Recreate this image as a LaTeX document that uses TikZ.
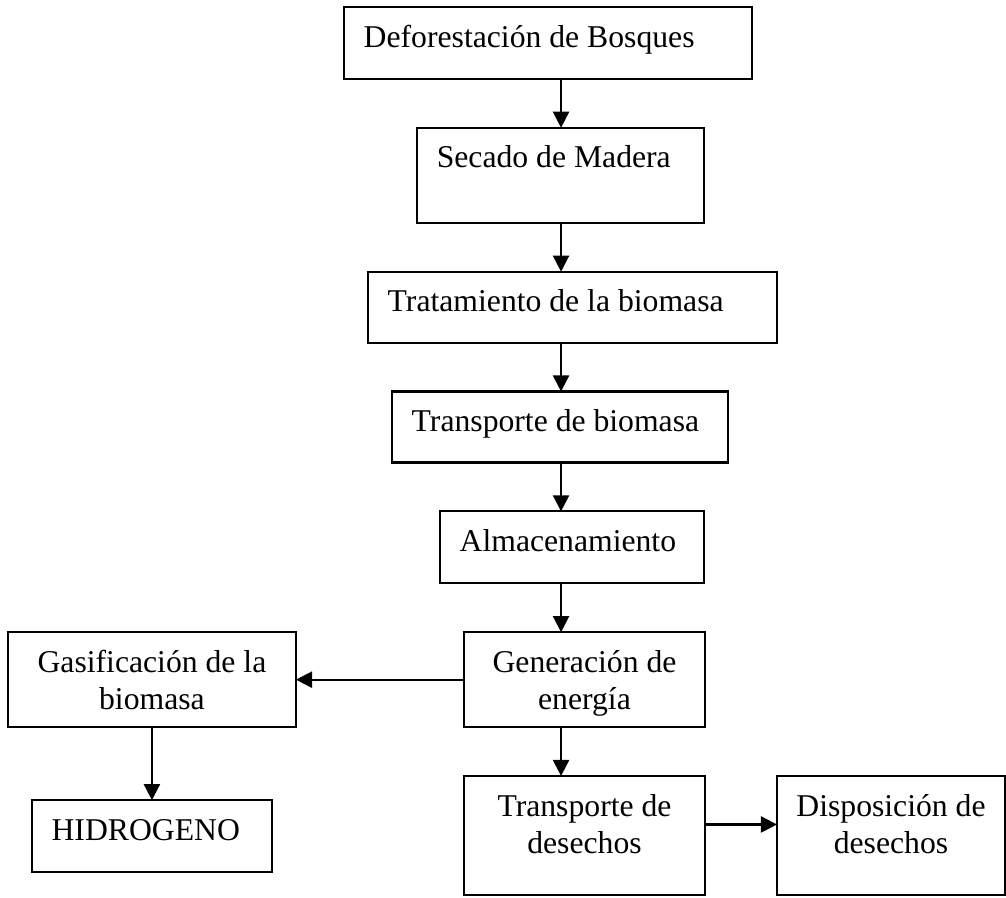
\documentclass[tikz,border=0pt]{standalone}
\usepackage{fontspec}
\setmainfont{Liberation Serif}
\usetikzlibrary{arrows.meta,positioning}

\begin{document}
\begin{tikzpicture}[
    node distance=0.62cm and 2.134cm,
    box/.style={rectangle, draw=black, line width=0.75pt, inner ysep=0pt, outer sep=0pt,
                font=\fontsize{11.45pt}{13.4pt}\selectfont},
    lbox/.style={box, inner xsep=0.25cm, align=flush left, text height=0.508cm},
    cbox/.style={box, inner xsep=0pt, align=center, text height=0.979cm},
    arrow/.style={-{Triangle[length=5.8pt,width=5.8pt]}, line width=0.75pt}
]
\useasboundingbox (0,0) rectangle (12.776,-11.392);
\coordinate (axis) at (7.125,0);
\node[lbox, anchor=north west, text width=4.682cm, text depth=0.406cm] (bosques) at (4.369,-0.089) {Deforestación de Bosques};
\node[lbox, below=of bosques, xshift=0.159cm, text width=3.145cm, text depth=0.699cm] (secado) {Secado de Madera};
\node[lbox, below=of secado, xshift=0.152cm, text width=4.694cm, text depth=0.394cm] (tratamiento) {Tratamiento de la biomasa};
\node[lbox, below=of tratamiento, xshift=-0.159cm, text width=3.767cm, text depth=0.394cm] (transporte) {Transporte de biomasa};
\node[lbox, below=of transporte, xshift=0.152cm, text width=2.853cm, text depth=0.406cm] (almacen) {Almacenamiento};
\node[cbox, below=of almacen, xshift=0.159cm, minimum width=3.061cm, text depth=0.228cm] (generacion) {Generación de\\energía};
\node[cbox, left=of generacion, minimum width=3.658cm, text depth=0.228cm] (gasif) {Gasificación de la\\biomasa};
\node[lbox, below=0.927cm of gasif, text width=2.548cm, text depth=0.406cm] (hidrogeno) {HIDROGENO};
\node[cbox, below=of generacion, minimum width=3.061cm, text depth=0.532cm] (desechos) {Transporte de\\desechos};
\node[cbox, right=0.914cm of desechos, minimum width=2.896cm, text depth=0.532cm] (disposicion) {Disposición de\\desechos};

% flujo principal
\draw[arrow] (bosques.south -| axis) -- (secado.north -| axis);
\draw[arrow] (secado.south -| axis) -- (tratamiento.north -| axis);
\draw[arrow] (tratamiento.south -| axis) -- (transporte.north -| axis);
\draw[arrow] (transporte.south -| axis) -- (almacen.north -| axis);
\draw[arrow] (almacen.south -| axis) -- (generacion.north -| axis);
\draw[arrow] (generacion.south -| axis) -- (desechos.north -| axis);
% ramas
\draw[arrow] (generacion.west) -- (gasif.east);
\draw[arrow] (gasif.south) -- (hidrogeno.north);
\draw[arrow] ([yshift=0.14cm]desechos.east) -- ([yshift=0.14cm]desechos.east -| disposicion.west);
\end{tikzpicture}
\end{document}
